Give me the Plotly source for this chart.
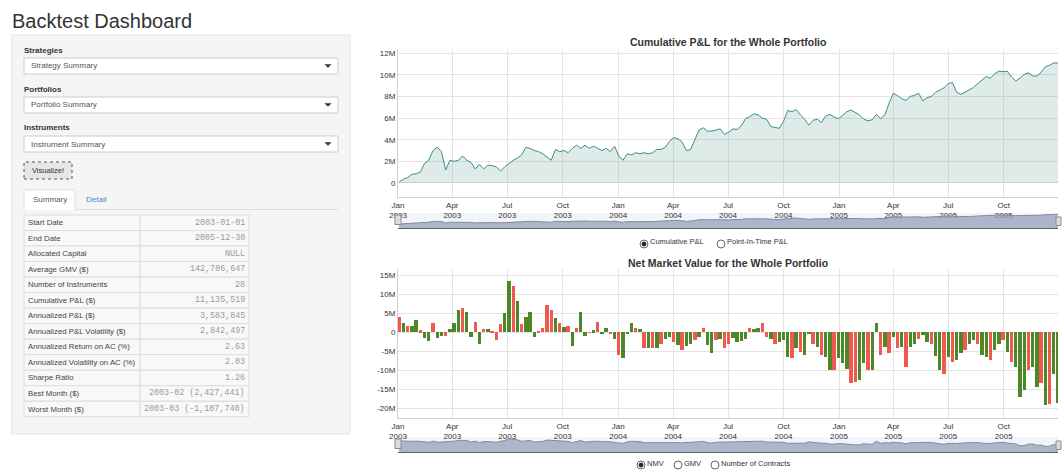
import plotly.graph_objects as go
import pandas as pd

# ---------------- data ----------------
cum_pnl_m = [
    0.1, 0.35, 0.5, 0.8, 0.85, 1.0, 1.8, 2.1, 3.0, 3.3,
    2.9, 1.2, 2.1, 2.0, 2.1, 2.5, 2.1, 1.9, 1.3, 1.7,
    1.3, 1.65, 1.6, 1.5, 1.1, 1.5, 1.8, 2.1, 2.3, 2.6,
    3.3, 3.2, 3.0, 2.9, 2.7, 2.4, 2.1, 3.1, 2.9, 3.0,
    2.8, 3.2, 3.5, 3.2, 3.5, 3.2, 3.4, 3.2, 3.0, 3.2,
    2.9, 3.4, 2.5, 2.1, 2.7, 2.6, 2.8, 2.7, 2.8, 2.7,
    2.8, 3.1, 3.1, 3.3, 3.85, 4.2, 4.1, 3.8, 3.0, 3.1,
    4.0, 4.9, 5.1, 4.8, 4.8, 4.9, 5.0, 4.5,
    4.7, 5.0, 4.95, 5.3, 5.95, 6.15, 6.4, 6.3, 6.0, 5.9,
    5.2, 5.15, 5.05, 5.7, 6.7, 6.6, 6.8, 6.3, 5.9, 5.35,
    5.8, 5.9, 5.6, 6.2, 6.35, 6.1, 5.95, 6.25, 6.6, 6.75,
    6.5, 6.3, 5.9, 5.75, 5.85, 6.35, 5.95, 6.3, 7.4, 8.3,
    8.1, 7.8, 7.65, 8.0, 8.1, 8.3, 7.6, 7.9, 8.0, 8.4,
    8.6, 8.8, 9.2, 9.3, 8.4, 8.2, 8.4, 8.6, 8.85, 9.2,
    9.5, 9.85, 9.7, 10.1, 10.35, 10.3, 10.35, 9.8, 9.45, 9.7,
    10.05, 10.2, 9.9, 9.9, 10.25, 10.75, 10.9, 11.1, 11.1,
]

nmv_m = [
    3.9, 2.5, 1.7, 1.7, 3.2, 0.5, -1.5, -2.3, 2.5, -1.5,
    -1.0, -0.9, 0.9, 2.5, 5.8, 6.4, 5.4, -1.4, 2.7, -3.0,
    0.8, 0.7, 0.4, -2.1, 2.1, 5.1, 13.4, 12.0, 8.3, 2.1,
    3.9, 5.2, -1.2, 0.1, 1.2, 7.2, 5.8, 3.6,
    2.3, 1.4, 1.6, -3.7, 1.2, 5.4, -1.0, -0.2, 0.5, 2.7,
    -0.5, 1.2, -0.5, -1.9, -6.0, -6.9, -0.3, 2.3, 1.2, 0.8,
    -4.3, -4.3, -4.3, -4.3, -3.0, -1.7, -1.2, -2.5, -3.4, -4.7,
    -3.7, -3.0, -2.1, -1.2, 1.2, -3.4, -5.6, -2.1, -1.7, -4.3,
    -3.0, -1.6, -2.5, -2.3, -1.9, 1.0, 0.7, 1.2, 2.5, -1.2,
    -1.9, -3.0, -2.5, -2.1, -6.5, -6.9, -4.3, -5.2, -6.0, -0.35,
    -3.0, -3.9, -6.0, -6.5, -10.0, -10.0, -6.9, -8.2, -9.6, -13.5,
    -13.1, -12.6, -8.2, -10.0, -10.0, 2.5, -6.0, -3.9, -5.6, -1.2,
    -4.3, -3.9, -9.1, -4.0, -3.0, -1.9, -0.8, -2.5, -3.0, -6.3,
    -10.0, -10.9, -6.5, -7.8, -7.4, -5.6, -4.6, -3.0, -2.0, -3.0,
    -6.0, -6.5, -7.4, -4.7, -3.0, -2.1, -5.2, -7.8, -9.1, -17.2,
    -15.3, -10.0, -9.1, -14.4, -13.5, -19.2, -18.8, -10.9, -18.6,
]

nmv_dir = list(
    "rgrggrggrg" "grgggrggrg" "rgrrrggrgr" "gggrrrrg"
    "rgrgrggrgr" "ggrgrgggrg" "rgrgrggrgr" "ggrgrggrgr"
    "rggggrggrr" "grgggrgrgg" "rgrggrgggr" "rggrggrgrg"
    "rgrggrggrg" "grgrggrggr" "ggrggrgrgg" "grggrgrgg"
)

x_tickvals = ["2003-01-01", "2003-04-01", "2003-07-01", "2003-10-01",
              "2004-01-01", "2004-04-01", "2004-07-01", "2004-10-01",
              "2005-01-01", "2005-04-01", "2005-07-01", "2005-10-01"]
x_ticktext = ["Jan<br>2003", "Apr<br>2003", "Jul<br>2003", "Oct<br>2003",
              "Jan<br>2004", "Apr<br>2004", "Jul<br>2004", "Oct<br>2004",
              "Jan<br>2005", "Apr<br>2005", "Jul<br>2005", "Oct<br>2005"]
pnl_tickvals = [0, 2, 4, 6, 8, 10, 12]
pnl_ticktext = ["0", "2M", "4M", "6M", "8M", "10M", "12M"]
nmv_tickvals = [-20, -15, -10, -5, 0, 5, 10, 15]
nmv_ticktext = ["-20M", "-15M", "-10M", "-5M", "0", "5M", "10M", "15M"]

select_labels = ["Strategies", "Portfolios", "Instruments"]
select_values = ["Strategy Summary", "Portfolio Summary", "Instrument Summary"]
tab_labels = ["Summary", "Detail"]
summary_labels = [
    "Start Date", "End Date", "Allocated Capital", "Average GMV ($)",
    "Number of Instruments", "Cumulative P&L ($)", "Annualized P&L ($)",
    "Annualized P&L Volatility ($)", "Annualized Return on AC (%)",
    "Annualized Volatility on AC (%)", "Sharpe Ratio", "Best Month ($)",
    "Worst Month ($)",
]
summary_values = [
    "2003-01-01", "2005-12-30", "NULL", "142,706,647", "28", "11,135,519",
    "3,583,845", "2,842,497", "2.63", "2.03", "1.26",
    "2003-02 (2,427,441)", "2003-03 (-1,107,740)",
]
pnl_options = ["Cumulative P&L", "Point-In-Time P&L"]
nmv_options = ["NMV", "GMV", "Number of Contracts"]

# ---------------- helpers ----------------
W, H = 1062, 470
SANS = "Liberation Sans, Arial, sans-serif"
MONO = "Liberation Mono, Courier New, monospace"


def px(x):
    return x / W


def py(y):
    return 1 - y / H


shapes = []
anns = []


def rect(x0, y0, x1, y1, fill, line="rgba(0,0,0,0)", lw=1, dash="solid", layer="below"):
    shapes.append(dict(type="rect", xref="paper", yref="paper",
                       x0=px(x0), x1=px(x1), y0=py(y1), y1=py(y0),
                       fillcolor=fill, line=dict(color=line, width=lw, dash=dash),
                       layer=layer))


def hline(x0, x1, y, color, lw=1, layer="below"):
    shapes.append(dict(type="line", xref="paper", yref="paper",
                       x0=px(x0), x1=px(x1), y0=py(y), y1=py(y),
                       line=dict(color=color, width=lw), layer=layer))


def circle(cx, cy, r, fill, line, lw=1, layer="above"):
    shapes.append(dict(type="circle", xref="paper", yref="paper",
                       x0=px(cx - r), x1=px(cx + r), y0=py(cy + r), y1=py(cy - r),
                       fillcolor=fill, line=dict(color=line, width=lw), layer=layer))


def text(x, y, s, size=8, color="#333", bold=False, anchor="left", family=SANS):
    anns.append(dict(xref="paper", yref="paper", x=px(x), y=py(y),
                     text=("<b>%s</b>" % s) if bold else s, showarrow=False,
                     xanchor=anchor, yanchor="middle", borderpad=0,
                     font=dict(size=size, color=color, family=family)))


def caret(x, y):
    shapes.append(dict(type="path", xref="paper", yref="paper",
                       path="M %f %f L %f %f L %f %f Z" % (px(x - 3), py(y - 1.5), px(x + 3), py(y - 1.5), px(x), py(y + 1.5)),
                       fillcolor="#333", line=dict(color="#333", width=0.5), layer="above"))


# ---------------- left panel ----------------
text(11, 21, "Backtest Dashboard", size=20, color="#333")
rect(12, 35, 350, 434, "#f5f5f5", "#e3e3e3")

sel_y = [(50, 58, 74), (89, 97, 113), (128, 136, 152)]
for (ly, y0, y1), lab, val in zip(sel_y, select_labels, select_values):
    text(23, ly, lab, size=8, color="#333", bold=True)
    rect(24, y0, 338, y1, "#ffffff", "#cccccc")
    text(30, (y0 + y1) / 2, val, size=8, color="#555")
    caret(328, (y0 + y1) / 2)

rect(24, 162, 72, 179, "#e6e6e6", "#555555", lw=1, dash="dot")
text(48, 170.5, "Visualize!", size=7.5, color="#333", anchor="center")

hline(24, 338, 209.5, "#dddddd")
rect(24, 190, 75, 209.5, "#ffffff", "#dddddd")
hline(24.5, 74.5, 209.5, "#ffffff", lw=1.5)
text(49.5, 199.5, tab_labels[0], size=8, color="#555", anchor="center")
text(96.5, 199.5, tab_labels[1], size=8, color="#428bca", anchor="center")

row_top = 215.0
row_h = 15.52
for i, (lab, val) in enumerate(zip(summary_labels, summary_values)):
    y0 = row_top + i * row_h
    y1 = y0 + row_h
    rect(24, y0, 140, y1, "#f8f8f8", "#dddddd")
    rect(140, y0, 249, y1, "#f8f8f8", "#dddddd")
    text(26.5, (y0 + y1) / 2, lab, size=7.8, color="#444")
    text(245.5, (y0 + y1) / 2, val, size=8.4, color="#9a9a9a", anchor="right", family=MONO)

# ---------------- charts ----------------
dates = pd.date_range("2003-01-03", periods=len(cum_pnl_m), freq="W-FRI")
nmv_dates = pd.date_range("2003-01-03", periods=len(nmv_m), freq="W-FRI")
xr = ["2003-01-01", "2005-12-30"]
week_ms = 7 * 24 * 3600 * 1000
col_map = {"g": "#3f7d16", "r": "#ef4b42"}
bar_colors = [col_map[c] for c in nmv_dir[:len(nmv_m)]]

PL, PR = 398, 1058
top_mini_lo, top_mini_hi = -5.0, 12.5
bot_mini_lo, bot_mini_hi = -45.0, 20.0

fig = go.Figure()
fig.add_trace(go.Scatter(x=dates, y=cum_pnl_m, mode="lines",
                         line=dict(color="#3a8f87", width=1),
                         fill="tozeroy", fillcolor="rgba(70,145,135,0.18)",
                         xaxis="x", yaxis="y", hoverinfo="skip"))
fig.add_trace(go.Scatter(x=dates, y=[top_mini_lo] * len(dates), mode="lines",
                         line=dict(width=0, color="rgba(0,0,0,0)"),
                         xaxis="x2", yaxis="y2", hoverinfo="skip"))
fig.add_trace(go.Scatter(x=dates, y=cum_pnl_m, mode="lines",
                         line=dict(color="#7f8aa6", width=1),
                         fill="tonexty", fillcolor="rgba(150,160,185,0.75)",
                         xaxis="x2", yaxis="y2", hoverinfo="skip"))
fig.add_trace(go.Bar(x=nmv_dates, y=nmv_m, marker=dict(color=bar_colors, line=dict(width=0)),
                     opacity=0.92, width=week_ms * 0.8,
                     xaxis="x3", yaxis="y3", hoverinfo="skip"))
fig.add_trace(go.Scatter(x=nmv_dates, y=[bot_mini_lo] * len(nmv_dates), mode="lines",
                         line=dict(width=0, color="rgba(0,0,0,0)"),
                         xaxis="x4", yaxis="y4", hoverinfo="skip"))
fig.add_trace(go.Scatter(x=nmv_dates, y=nmv_m, mode="lines",
                         line=dict(color="#7f8aa6", width=1),
                         fill="tonexty", fillcolor="rgba(150,160,185,0.75)",
                         xaxis="x4", yaxis="y4", hoverinfo="skip"))

tickfont = dict(size=8, color="#333", family=SANS)
main_x = dict(type="date", range=xr, tickmode="array", tickvals=x_tickvals,
              ticktext=x_ticktext, showgrid=True, gridcolor="#e4e4e4",
              showline=True, linecolor="#d0d0d0", ticks="", tickfont=tickfont,
              zeroline=False, fixedrange=True, automargin=False)
mini_x = dict(type="date", range=xr, showticklabels=False, showgrid=False,
              showline=False, zeroline=False, ticks="", fixedrange=True,
              automargin=False)

for (y0, y1) in [(213, 228.5), (437, 452.5)]:
    rect(PL, y0, PR, y1, "#f3f4f7", layer="below")
    hline(PL, PR, y1, "#5b6274", lw=1.2, layer="above")
    rect(PL - 3, y0 + 2, PL + 3, y1 - 4, "#dcdcdc", "#8a8a8a", layer="above")
    rect(PR - 2, y0 + 4, PR + 3, y1 - 3, "#dcdcdc", "#8a8a8a", layer="above")

text((PL + PR) / 2, 42, "Cumulative P&L for the Whole Portfolio", size=10.5, color="#333", bold=True, anchor="center")
text((PL + PR) / 2, 263, "Net Market Value for the Whole Portfolio", size=10.5, color="#333", bold=True, anchor="center")

for k, (lab, cx) in enumerate(zip(pnl_options, [644, 721])):
    circle(cx, 244, 4, "#ffffff", "#666666")
    if k == 0:
        circle(cx, 244, 2, "#222222", "#222222")
    text(cx + 5, 242, lab, size=7.5, color="#333")
for k, (lab, cx) in enumerate(zip(nmv_options, [641, 678, 715])):
    circle(cx, 465, 4, "#ffffff", "#666666")
    if k == 0:
        circle(cx, 465, 2, "#222222", "#222222")
    text(cx + 5, 463, lab, size=7.5, color="#333")

fig.update_layout(
    width=W, height=H, margin=dict(l=0, r=0, t=0, b=0, pad=0, autoexpand=False),
    paper_bgcolor="#ffffff", plot_bgcolor="#ffffff",
    showlegend=False, hovermode=False, bargap=0,
    font=dict(family=SANS, color="#333"),
    xaxis=dict(domain=[px(PL), px(PR)], anchor="y", **main_x),
    yaxis=dict(domain=[py(197), py(49)], anchor="x", range=[-1.3, 12.4],
               tickvals=pnl_tickvals, ticktext=pnl_ticktext, tickfont=tickfont,
               showgrid=True, gridcolor="#e4e4e4", showline=True, linecolor="#d0d0d0",
               zeroline=False, ticks="", fixedrange=True, automargin=False),
    xaxis2=dict(domain=[px(PL), px(PR)], anchor="y2", **mini_x),
    yaxis2=dict(domain=[py(228.5), py(213)], anchor="x2", range=[top_mini_lo, top_mini_hi],
                visible=False, fixedrange=True, automargin=False),
    xaxis3=dict(domain=[px(PL), px(PR)], anchor="y3", **main_x),
    yaxis3=dict(domain=[py(418), py(269)], anchor="x3", range=[-22.6, 16.6],
                tickvals=nmv_tickvals, ticktext=nmv_ticktext, tickfont=tickfont,
                showgrid=True, gridcolor="#e4e4e4", showline=True, linecolor="#d0d0d0",
                zeroline=False, ticks="", fixedrange=True, automargin=False),
    xaxis4=dict(domain=[px(PL), px(PR)], anchor="y4", **mini_x),
    yaxis4=dict(domain=[py(452.5), py(437)], anchor="x4", range=[bot_mini_lo, bot_mini_hi],
                visible=False, fixedrange=True, automargin=False),
    shapes=shapes, annotations=anns,
)

fig.write_html("out.html", config={"displayModeBar": False},
               post_script="document.body.style.margin='0';document.body.style.overflow='hidden';")
